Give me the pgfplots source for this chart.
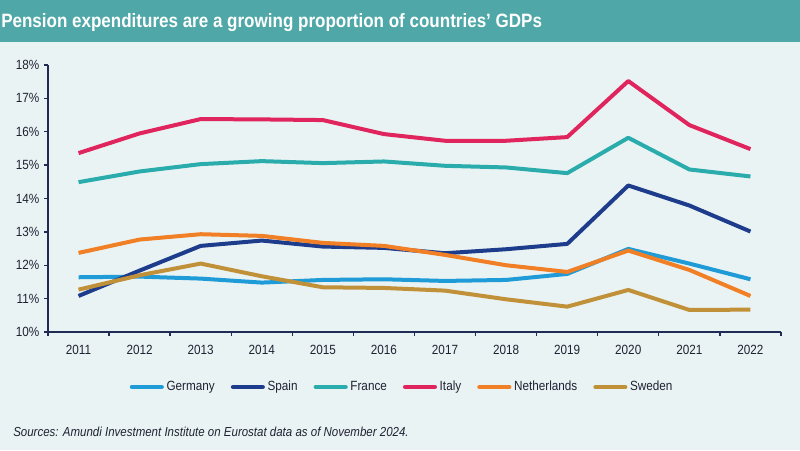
\documentclass[border=0pt]{standalone}
\usepackage{fontspec}
\setmainfont{Liberation Sans}[FakeStretch=0.88]
\usepackage{pgfplots}
\pgfplotsset{compat=1.18}
\definecolor{bgcol}{HTML}{EAF3F3}
\definecolor{titlecol}{HTML}{4FA7A7}
\definecolor{axiscol}{HTML}{1F2B55}
\definecolor{txtcol}{HTML}{1E2233}
\definecolor{cGer}{HTML}{1F9BD7}
\definecolor{cSpa}{HTML}{1E3C8C}
\definecolor{cFra}{HTML}{2BACAC}
\definecolor{cIta}{HTML}{E0245E}
\definecolor{cNet}{HTML}{F07F26}
\definecolor{cSwe}{HTML}{C1913A}
\begin{document}
\begin{tikzpicture}[x=0.75pt,y=0.75pt]
\fill[bgcol] (0,0) rectangle (800,450);
\fill[titlecol] (0,408) rectangle (800,450);
\useasboundingbox (0,0) rectangle (800,450);
\node[anchor=base west, inner sep=0pt, text=white, font=\bfseries\fontsize{14.5pt}{17pt}\selectfont] at (1,422) {Pension expenditures are a growing proportion of countries’ GDPs};
\node[anchor=base west, inner sep=0pt, text=txtcol, font=\itshape\fontsize{9.8pt}{11pt}\selectfont] at (13,13) {Sources: Amundi Investment Institute on Eurostat data as of November 2024.};
\begin{axis}[
  at={(36pt,88.5pt)}, anchor=south west,
  scale only axis, width=549.75pt, height=200.25pt,
  xmin=2010.5, xmax=2022.5, ymin=10, ymax=18,
  axis lines=left,
  axis line style={-, draw=axiscol, line width=1.1pt},
  tick align=outside,
  xtick={2011,...,2022},
  xticklabels={2011,2012,2013,2014,2015,2016,2017,2018,2019,2020,2021,2022},
  xticklabel style={yshift=-3.5pt},
  major x tick style={draw=none},
  minor xtick={2010.5,2011.5,...,2022.5},
  minor tick length=3pt,
  minor x tick style={draw=axiscol, line width=1pt},
  ytick={10,...,18},
  yticklabel={\pgfmathprintnumber[assume math mode=true]{\tick}\%},
  major tick length=3pt,
  y tick style={draw=axiscol, line width=1pt},
  tick label style={font=\fontsize{10pt}{12pt}\selectfont, text=txtcol},
  every axis plot/.append style={line width=3pt, line join=round},
  legend columns=6,
  legend style={at={(axis description cs:0.4836,-0.206)}, anchor=center, draw=none, fill=none,
    font=\fontsize{10pt}{12pt}\selectfont, text=txtcol,
    /tikz/every even column/.append style={column sep=10pt}},
  legend cell align=left,
  legend image code/.code={\draw[#1, line width=3.6pt, line cap=round] (0pt,0pt) -- (22pt,0pt);},
]
\addplot[cGer] coordinates {(2011,11.64)(2012,11.66)(2013,11.60)(2014,11.48)(2015,11.56)(2016,11.58)(2017,11.53)(2018,11.56)(2019,11.74)(2020,12.49)(2021,12.05)(2022,11.58)};
\addlegendentry{Germany}
\addplot[cSpa] coordinates {(2011,11.08)(2012,11.84)(2013,12.58)(2014,12.74)(2015,12.56)(2016,12.52)(2017,12.36)(2018,12.48)(2019,12.64)(2020,14.39)(2021,13.79)(2022,13.01)};
\addlegendentry{Spain}
\addplot[cFra] coordinates {(2011,14.49)(2012,14.81)(2013,15.03)(2014,15.12)(2015,15.06)(2016,15.11)(2017,14.98)(2018,14.93)(2019,14.76)(2020,15.82)(2021,14.87)(2022,14.66)};
\addlegendentry{France}
\addplot[cIta] coordinates {(2011,15.36)(2012,15.95)(2013,16.38)(2014,16.37)(2015,16.35)(2016,15.93)(2017,15.73)(2018,15.73)(2019,15.84)(2020,17.52)(2021,16.20)(2022,15.48)};
\addlegendentry{Italy}
\addplot[cNet] coordinates {(2011,12.37)(2012,12.77)(2013,12.93)(2014,12.88)(2015,12.67)(2016,12.58)(2017,12.31)(2018,12.00)(2019,11.80)(2020,12.44)(2021,11.86)(2022,11.08)};
\addlegendentry{Netherlands}
\addplot[cSwe] coordinates {(2011,11.27)(2012,11.70)(2013,12.05)(2014,11.67)(2015,11.34)(2016,11.32)(2017,11.24)(2018,10.98)(2019,10.76)(2020,11.26)(2021,10.66)(2022,10.67)};
\addlegendentry{Sweden}
\end{axis}
\end{tikzpicture}
\end{document}
